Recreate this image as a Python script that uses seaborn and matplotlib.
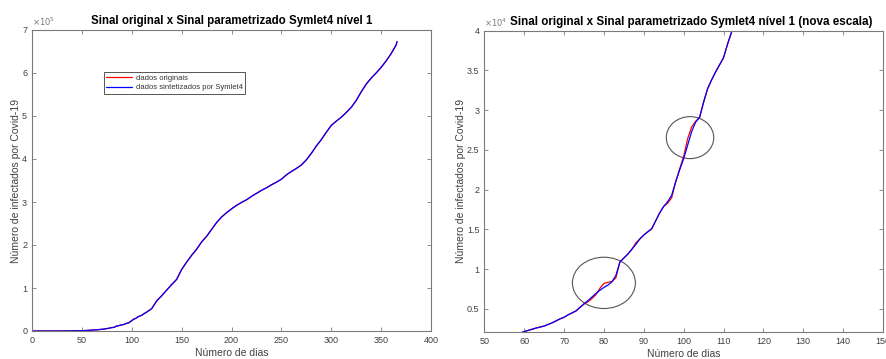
import numpy as np
import pandas as pd
import matplotlib
matplotlib.use("Agg")
import matplotlib.pyplot as plt
from matplotlib.patches import Ellipse
from matplotlib.ticker import FuncFormatter, MultipleLocator
import seaborn as sns

# ---------------- data ----------------
days = [0, 5, 10, 15, 20, 25, 30, 35, 40, 45, 50, 55,
        56, 57, 58, 59, 60, 61, 62, 63, 64, 65, 66, 67, 68, 69,
        70, 71, 72, 73, 74, 75, 76, 77, 78, 79, 80, 81, 82, 83, 84,
        85, 86, 87, 88, 89, 90, 91, 92, 93, 94, 95, 96, 97, 98, 99,
        100, 101, 102, 103, 104, 105, 106, 107, 108, 109, 110, 111,
        112, 113, 114, 115,
        120, 125, 130, 135, 140, 145, 150, 155, 160, 165, 170, 175,
        180, 185, 190, 195, 200, 205, 210, 215, 220, 225, 230, 235,
        240, 245, 250, 255, 260, 265, 270, 275, 280, 285, 290, 295,
        300, 305, 310, 315, 320, 325, 330, 335, 340, 345, 350, 355,
        360, 365, 366]

synthetized = [0, 0, 0, 10, 30, 60, 120, 200, 350, 550, 800, 1300,
               1450, 1600, 1780, 1950, 2150, 2300, 2450, 2600, 2720, 2850, 3050, 3250, 3500, 3750,
               3950, 4250, 4500, 4750, 5200, 5650, 6050, 6500, 6950, 7350, 7700, 8000, 8400, 9200, 10900,
               11400, 11900, 12500, 13100, 13800, 14300, 14700, 15100, 16100, 17100, 17900, 18500, 19300, 21000, 22500,
               23900, 25600, 27300, 28500, 29100, 31000, 32700, 33800, 34800, 35700, 36600, 38300,
               39800, 41200, 42600, 44000,
               52000, 70000, 82000, 95000, 108000, 120000, 143000, 160000, 176000, 190000, 207000, 220000,
               236000, 252000, 265000, 275000, 284000, 292000, 299000, 305000, 313000, 320000, 327000, 333000,
               340000, 346000, 353000, 363000, 371000, 378000, 386000, 398000, 413000, 430000, 445000, 462000,
               478000, 488000, 497000, 508000, 520000, 536000, 556000, 574000, 588000, 600000, 613000, 628000,
               645000, 665000, 673000]

original = [0, 0, 0, 10, 30, 60, 120, 200, 350, 550, 800, 1300,
            1450, 1600, 1780, 1950, 2150, 2300, 2450, 2600, 2720, 2850, 3050, 3250, 3500, 3750,
            3950, 4250, 4500, 4750, 5200, 5600, 5900, 6300, 6800, 7600, 8200, 8350, 8450, 8900, 10900,
            11400, 11900, 12500, 13300, 13800, 14300, 14700, 15100, 16100, 17100, 17900, 18300, 19000, 21000, 22600,
            24200, 26400, 27900, 28600, 29100, 31000, 32700, 33800, 34800, 35700, 36600, 38300,
            39800, 41200, 42600, 44000,
            52000, 70000, 82000, 95000, 108000, 120000, 143000, 160000, 176000, 190000, 207000, 220000,
            236000, 252000, 265000, 275000, 284000, 292000, 299000, 305000, 313000, 320000, 327000, 333000,
            340000, 346000, 353000, 363000, 371000, 378000, 386000, 398000, 413000, 430000, 445000, 462000,
            478000, 488000, 497000, 508000, 520000, 536000, 556000, 574000, 588000, 600000, 613000, 628000,
            645000, 665000, 673000]

label_orig = "dados originais"
label_synth = "dados sintetizados por Symlet4"
title_left = "Sinal original x Sinal parametrizado Symlet4 nível 1"
title_right = "Sinal original x Sinal parametrizado Symlet4 nível 1 (nova escala)"
xlabel = "Número de dias"
ylabel = "Número de infectados por Covid-19"

# highlight ellipses on right panel (center day, center value, width days, height value)
ellipses = [(80.0, 8280, 15.8, 6450), (101.6, 26550, 11.9, 5280)]

df = pd.DataFrame({"dia": days, "orig": original, "synth": synthetized})

# ---------------- style ----------------
sns.set_style("white")
plt.rcParams["font.family"] = ["Liberation Sans", "DejaVu Sans"]
txt_color = "#404040"
edge_color = "#7a7a7a"

fig = plt.figure(figsize=(8.86, 3.59), dpi=100)
axL = fig.add_axes([32 / 886, 28 / 359, 399 / 886, 301 / 359])
axR = fig.add_axes([484.3 / 886, 27 / 359, 398.7 / 886, 301.3 / 359])


def style_axis(ax, scale, exp):
    for s in ax.spines.values():
        s.set_color(edge_color)
        s.set_linewidth(0.8)
    ax.tick_params(axis="both", which="both", direction="in", length=3, width=0.6,
                   color=edge_color, labelcolor=txt_color, labelsize=6.5,
                   top=True, right=True, bottom=True, left=True)
    ax.yaxis.set_major_formatter(FuncFormatter(lambda v, p: "%g" % round(v / scale, 4)))
    ax.text(0.0, 1.005, r"$\times10^{%d}$" % exp, transform=ax.transAxes,
            fontsize=6, color="#7a7a7a", ha="left", va="bottom")
    ax.set_xlabel(xlabel, fontsize=7.5, color=txt_color, labelpad=2)
    ax.set_ylabel(ylabel, fontsize=7.5, color=txt_color, labelpad=1)


# ---------------- left panel ----------------
sns.lineplot(data=df, x="dia", y="orig", ax=axL, color="#ff0000", lw=0.9,
             label=label_orig, estimator=None, sort=False)
sns.lineplot(data=df, x="dia", y="synth", ax=axL, color="#0000ff", lw=0.9,
             label=label_synth, estimator=None, sort=False)
axL.set_xlim(0, 400)
axL.set_ylim(0, 700000)
axL.xaxis.set_major_locator(MultipleLocator(50))
axL.yaxis.set_major_locator(MultipleLocator(100000))
style_axis(axL, 1e5, 5)
axL.set_title(title_left, fontsize=8.3, fontweight="bold", color="black", pad=4)
leg = axL.legend(loc="upper left", bbox_to_anchor=(0.18, 0.862), fontsize=5.5,
                 frameon=True, fancybox=False, edgecolor="#555555", framealpha=1,
                 handlelength=3.3, handletextpad=0.5, borderpad=0.35, labelspacing=0.3,
                 borderaxespad=0)
leg.get_frame().set_linewidth(0.7)
for t in leg.get_texts():
    t.set_color("#333333")

# ---------------- right panel ----------------
sns.lineplot(data=df, x="dia", y="orig", ax=axR, color="#ff0000", lw=0.9,
             estimator=None, sort=False, legend=False)
sns.lineplot(data=df, x="dia", y="synth", ax=axR, color="#0000ff", lw=0.9,
             estimator=None, sort=False, legend=False)
axR.set_xlim(50, 150)
axR.set_ylim(2100, 40000)
axR.xaxis.set_major_locator(MultipleLocator(10))
axR.yaxis.set_major_locator(MultipleLocator(5000))
style_axis(axR, 1e4, 4)
axR.set_title(title_right, fontsize=8.4, fontweight="bold", color="black", pad=4, x=0.518)
for cx, cy, w, h in ellipses:
    axR.add_patch(Ellipse((cx, cy), w, h, fill=False, edgecolor="#555555", lw=0.8))

fig.savefig("out.png", dpi=100)
